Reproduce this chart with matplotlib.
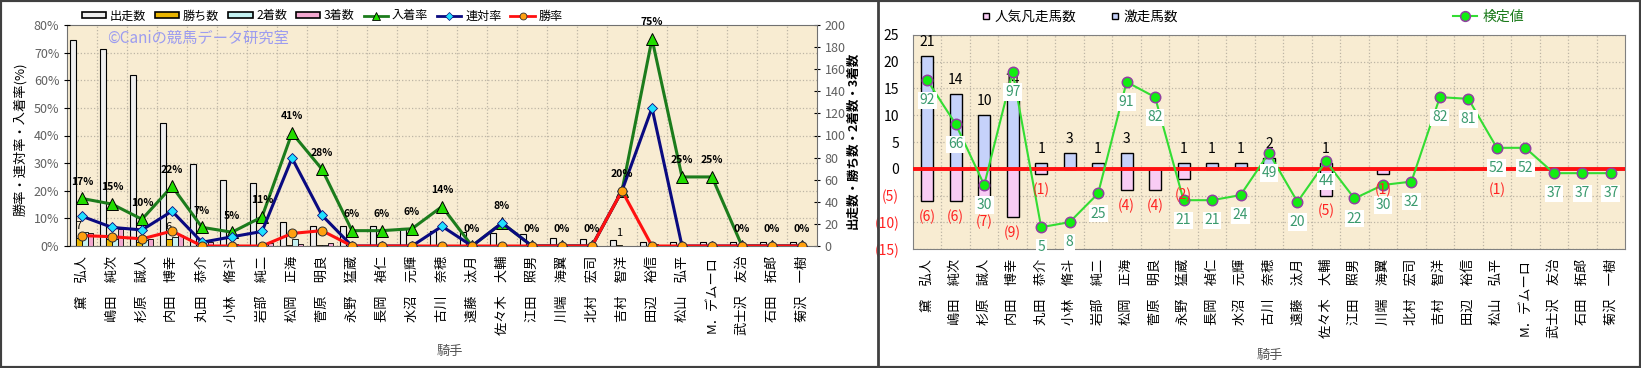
import matplotlib
matplotlib.use('Agg')
import matplotlib.pyplot as plt
from matplotlib.lines import Line2D
from matplotlib.patches import Patch, Rectangle
import numpy as np

plt.rcParams['font.family'] = ['Noto Sans CJK JP', 'DejaVu Sans']

# ---- data ----
jockeys = ['黛　弘人', '嶋田　純次', '杉原　誠人', '内田　博幸', '丸田　恭介', '小林　脩斗',
           '岩部　純二', '松岡　正海', '菅原　明良', '永野　猛蔵', '長岡　禎仁', '水沼　元輝',
           '古川　奈穂', '遠藤　汰月', '佐々木　大輔', '江田　照男', '川端　海翼', '北村　宏司',
           '吉村　智洋', '田辺　裕信', '松山　弘平', 'M．デムーロ', '武士沢　友治', '石田　拓郎',
           '菊沢　一樹']
runs = [186, 178, 155, 111, 74, 60, 57, 22, 18, 18, 18, 16, 14, 13, 12, 11, 7, 6, 5, 4, 4, 4, 4, 4, 4]
wins = [7, 6, 4, 6, 0, 0, 0, 1, 1, 0, 0, 0, 0, 0, 0, 0, 0, 0, 1, 0, 0, 0, 0, 0, 0]
seconds = [13, 6, 5, 8, 1, 2, 3, 6, 1, 0, 0, 0, 1, 0, 1, 0, 0, 0, 0, 2, 0, 0, 0, 0, 0]
thirds = [12, 15, 6, 10, 4, 1, 3, 2, 3, 1, 1, 1, 1, 0, 0, 0, 0, 0, 0, 1, 1, 1, 0, 0, 0]
win_label_idx = [0, 3, 18]   # win counts whose labels are visible

hot = [21, 14, 10, 14, 1, 3, 1, 3, 0, 1, 1, 1, 2, 0, 1, 0, 0, 0, 0, 0, 0, 0, 0, 0, 0]
flop = [6, 6, 7, 9, 1, 0, 0, 4, 4, 2, 0, 0, 0, 0, 5, 0, 1, 0, 0, 0, 1, 0, 0, 0, 0]
score = [92, 66, 30, 97, 5, 8, 25, 91, 82, 21, 21, 24, 49, 20, 44, 22, 30, 32, 82, 81, 52, 52, 37, 37, 37]

runs_a = np.array(runs, float)
win_rate = np.array(wins) / runs_a * 100
ren_rate = (np.array(wins) + np.array(seconds)) / runs_a * 100
place_rate = (np.array(wins) + np.array(seconds) + np.array(thirds)) / runs_a * 100

W, H = 1641, 368
def box(x0, y0, x1, y1):
    return [x0 / W, 1 - y1 / H, (x1 - x0) / W, (y1 - y0) / H]

fig = plt.figure(figsize=(W / 100, H / 100), dpi=100)
n = len(jockeys)
x = np.arange(n)
bg = '#f8ecd2'
gridc = '#bdb5a5'

# ---- left chart ----
ax = fig.add_axes(box(67, 25, 817, 246))
ax2 = ax.twinx()
ax.set_facecolor(bg)
bw = 0.19
ax.bar(x - 0.29, runs, bw, color='#eeeeee', edgecolor='black', lw=0.8, zorder=2)
ax.bar(x - 0.10, wins, bw, color='#e8b400', edgecolor='black', lw=0.6, zorder=2)
ax.bar(x + 0.09, seconds, bw, color='#c4f2f2', edgecolor='black', lw=0.6, zorder=2)
ax.bar(x + 0.28, thirds, bw, color='#f4a8d0', edgecolor='black', lw=0.6, zorder=2)
for i in win_label_idx:
    ax.annotate(str(wins[i]), (x[i] - 0.10, wins[i]), xytext=(0, 5), textcoords='offset points',
                ha='center', va='bottom', fontsize=8, zorder=3)
ax.set_xlim(-0.5, n - 0.5)
ax.set_ylim(0, 200)
ax.yaxis.tick_right()
ax.set_yticks(range(0, 201, 20))
ax.tick_params(axis='y', labelsize=9, labelcolor='#606060', length=4, direction='inout')
for yy in np.arange(25, 200, 25):
    ax.axhline(yy, color=gridc, ls=':', lw=0.9, zorder=1)
ax.set_xticks(x)
ax.set_xticklabels(jockeys, rotation=90, fontsize=9.5)
ax.set_xticks(np.arange(0.5, n - 1, 1), minor=True)
ax.grid(which='minor', axis='x', color=gridc, ls=':', lw=0.9, zorder=1)
ax.tick_params(axis='x', which='both', length=0, pad=7)
for s in ax.spines.values():
    s.set_color('#707070')

ax2.yaxis.tick_left()
ax2.set_ylim(0, 80)
ax2.set_yticks(range(0, 81, 10))
ax2.set_yticklabels([f'{v}%' for v in range(0, 81, 10)])
ax2.tick_params(axis='y', labelsize=9, labelcolor='#606060', length=4, direction='inout')
ax2.plot(x, place_rate, color='#1c7c1c', lw=2.2, marker='^', ms=9, mfc='#22dd00', mec='black', mew=0.7, zorder=3)
ax2.plot(x, ren_rate, color='#0a0a80', lw=2.2, marker='D', ms=5.5, mfc='#20e0ff', mec='#0a0a80', mew=0.6, zorder=4)
ax2.plot(x, win_rate, color='#ff1010', lw=2.2, marker='o', ms=6.5, mfc='#ffa010', mec='#303030', mew=0.7, zorder=5)
for i, v in enumerate(place_rate):
    ax2.annotate(f'{round(v):.0f}%', (x[i], v), xytext=(0, 12), textcoords='offset points',
                 ha='center', va='center', fontsize=7.5, fontweight='bold', zorder=6)
for s in ax2.spines.values():
    s.set_visible(False)

fig.text(20 / W, 1 - 139 / H, '勝率・連対率・入着率(%)', rotation=90, ha='center', va='center', fontsize=9.5)
fig.text(853 / W, 1 - 140 / H, '出走数・勝ち数・2着数・3着数', rotation=90, ha='center', va='center',
         fontsize=9, fontweight='bold')
fig.text(450 / W, 1 - 352 / H, '騎手', ha='center', va='center', fontsize=9.5, color='#555555')
fig.text(107 / W, 1 - 38 / H, '©Caniの競馬データ研究室', ha='left', va='center', fontsize=11, color='#9c9cf0')

h_left = [Patch(fc='#eeeeee', ec='black', lw=1.2), Patch(fc='#e8b400', ec='black', lw=1.2),
          Patch(fc='#c4f2f2', ec='black', lw=1.2), Patch(fc='#f4a8d0', ec='black', lw=1.2),
          Line2D([], [], color='#1c7c1c', lw=2, marker='^', ms=6, mfc='#22dd00', mec='black', mew=0.6),
          Line2D([], [], color='#0a0a80', lw=2, marker='D', ms=4, mfc='#20e0ff', mec='#0a0a80', mew=0.5),
          Line2D([], [], color='#ff1010', lw=2, marker='o', ms=5, mfc='#ffa010', mec='#303030', mew=0.6)]
fig.legend(h_left, ['出走数', '勝ち数', '2着数', '3着数', '入着率', '連対率', '勝率'],
           loc='center left', bbox_to_anchor=(82 / W, 1 - 16 / H), ncol=7, frameon=False,
           fontsize=8.7, handlelength=2.0, handleheight=0.45, columnspacing=0.75,
           handletextpad=0.3, borderaxespad=0, borderpad=0)

# ---- right chart ----
axr = fig.add_axes(box(913, 35, 1625, 249))
axr2 = axr.twinx()
axr.set_facecolor(bg)
rw = 0.42
axr.bar(x, hot, rw, color='#c6d2fa', edgecolor='black', lw=1, zorder=2)
axr.bar(x, [-v for v in flop], rw, color='#f8ccf4', edgecolor='black', lw=1, zorder=2)
for i in range(n):
    if hot[i] > 0:
        axr.annotate(str(hot[i]), (x[i], hot[i]), xytext=(0, 5), textcoords='offset points',
                     ha='center', va='bottom', fontsize=10, zorder=3)
axr.axhline(0, color='#ff1010', lw=2.8, zorder=4)
axr.set_xlim(-0.5, n - 0.5)
axr.set_ylim(-15, 25)
yt = list(range(-15, 26, 5))
axr.set_yticks(yt)
axr.set_yticklabels([f'({-v})' if v < 0 else str(v) for v in yt])
for lab, v in zip(axr.get_yticklabels(), yt):
    if v < 0:
        lab.set_color('#ff2020')
axr.tick_params(axis='y', labelsize=10, length=0, pad=10)
axr.grid(axis='y', color=gridc, ls=':', lw=0.9, zorder=1)
axr.set_xticks(x)
axr.set_xticklabels(jockeys, rotation=90, fontsize=9.5)
axr.set_xticks(np.arange(0.5, n - 1, 1), minor=True)
axr.grid(which='minor', axis='x', color=gridc, ls=':', lw=0.9, zorder=1)
axr.tick_params(axis='x', which='both', length=0, pad=7)
for s in axr.spines.values():
    s.set_color('#808080')

axr2.set_ylim(-7.9, 118.8)
axr2.set_yticks([])
for s in axr2.spines.values():
    s.set_visible(False)
axr2.plot(x, score, color='#33dd33', lw=1.5, marker='o', ms=7.5, mfc='#11ee11', mec='#9040a0', mew=1.1, zorder=5)
for i, v in enumerate(score):
    axr2.annotate(str(v), (x[i], v), xytext=(0, -14.5), textcoords='offset points', ha='center',
                  va='center', fontsize=10, color='#3a9a6e', zorder=6,
                  bbox=dict(boxstyle='square,pad=0.12', fc='white', ec='none'))
for i in range(n):
    if flop[i] > 0:
        axr2.annotate(f'({flop[i]})', (x[i], -flop[i]), xycoords=axr.transData, xytext=(0, -6),
                      textcoords='offset points', ha='center', va='top', fontsize=10,
                      color='#ff2020', zorder=7)

fig.text(1270 / W, 1 - 355 / H, '騎手', ha='center', va='center', fontsize=9.5, color='#555555')

h_r1 = [Line2D([], [], ls='none', marker='s', ms=5, mfc='#f8ccf4', mec='black', mew=1),
        Line2D([], [], ls='none', marker='s', ms=5, mfc='#c6d2fa', mec='black', mew=1)]
fig.legend(h_r1, ['人気凡走馬数', '激走馬数'], loc='center left', bbox_to_anchor=(982 / W, 1 - 17 / H),
           ncol=2, frameon=False, fontsize=9.8, handlelength=0.6, handletextpad=0.3,
           columnspacing=2.6, borderaxespad=0, borderpad=0)
h_r2 = [Line2D([], [], color='#33dd33', lw=1.5, marker='o', ms=7, mfc='#11ee11', mec='#9040a0', mew=1.1)]
fig.legend(h_r2, ['検定値'], loc='center left', bbox_to_anchor=(1453 / W, 1 - 17 / H),
           frameon=False, fontsize=10, handlelength=1.7, handletextpad=0.4,
           borderaxespad=0, borderpad=0, labelcolor='#1a7a1a')

# panel frames
fig.add_artist(Rectangle((0, 0), 1, 1, transform=fig.transFigure, fill=False, ec='#404040', lw=3))
fig.add_artist(Line2D([878 / W, 878 / W], [0, 1], transform=fig.transFigure, color='#404040', lw=2))

fig.savefig('out.png', dpi=100)
